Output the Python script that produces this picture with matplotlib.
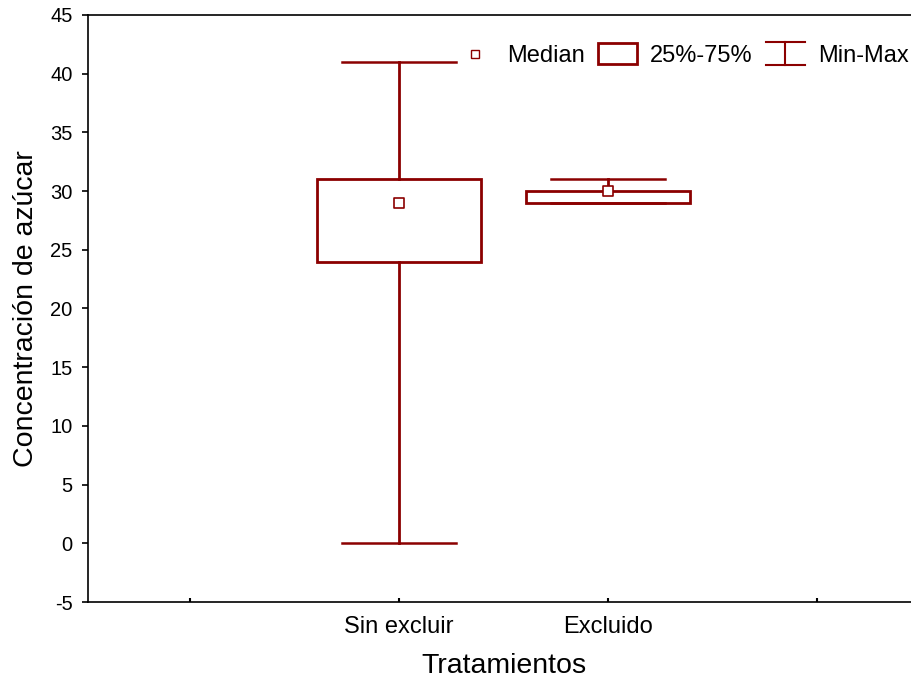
import matplotlib
matplotlib.use("Agg")
import matplotlib.pyplot as plt
from matplotlib.lines import Line2D
from matplotlib.patches import Rectangle
from matplotlib.legend_handler import HandlerBase

plt.rcParams['font.family'] = ['Liberation Sans', 'DejaVu Sans']
plt.rcParams['axes.unicode_minus'] = False

categories = ["Sin excluir", "Excluido"]
positions = [1, 2]
medians = [29, 30]
q1 = [24, 29]
q3 = [31, 30]
mins = [0, 29]
maxs = [41, 31]
tick_positions = [0, 1, 2, 3]
tick_labels = ["", "Sin excluir", "Excluido", ""]

color = "#8B0000"

fig = plt.figure(figsize=(9.12, 6.82), dpi=100)
ax = fig.add_axes([88/912, 80/682, (919-88)/912, 587/682])

stats = []
for i in range(len(categories)):
    stats.append(dict(med=medians[i], q1=q1[i], q3=q3[i],
                      whislo=mins[i], whishi=maxs[i], label=categories[i]))

ax.bxp(stats, positions=positions, widths=0.785, capwidths=0.55,
       showfliers=False, patch_artist=True,
       boxprops=dict(facecolor="white", edgecolor=color, linewidth=2),
       whiskerprops=dict(color=color, linewidth=2),
       capprops=dict(color=color, linewidth=1.8),
       medianprops=dict(linewidth=0))
ax.scatter(positions, medians, marker="s", s=42, facecolor="white",
           edgecolor=color, linewidth=1.2, zorder=5)

ax.set_xlim(-0.488, 3.488)
ax.set_ylim(-5, 45)
ax.set_yticks(range(-5, 46, 5))
ax.set_xticks(tick_positions)
ax.set_xticklabels(tick_labels)
ax.tick_params(axis="x", direction="in", length=3, width=1.5, labelsize=17, pad=10)
ax.tick_params(axis="y", direction="out", length=4, width=1.2, labelsize=14.5, pad=7)
for s in ax.spines.values():
    s.set_linewidth(1.2)

ax.set_xlabel("Tratamientos", fontsize=20.5)
ax.set_ylabel("Concentración de azúcar", fontsize=20.5)
ax.xaxis.set_label_coords(0.5, -(653 - 602) / 587)
ax.yaxis.set_label_coords((39 - 88) / 831, 0.5)


class WhiskerHandler(HandlerBase):
    def create_artists(self, legend, orig_handle, xdescent, ydescent, width,
                       height, fontsize, trans):
        x0 = -xdescent
        y0 = -ydescent
        xm = x0 + width / 2
        top = y0 + height / 2 + height * 0.68
        bot = y0 + height / 2 - height * 0.68
        lines = [
            Line2D([x0, x0 + width], [top, top], color=color, lw=1.5),
            Line2D([x0, x0 + width], [bot, bot], color=color, lw=1.5),
            Line2D([xm, xm], [bot, top], color=color, lw=1.5),
        ]
        for l in lines:
            l.set_transform(trans)
        return lines


class BoxHandler(HandlerBase):
    def create_artists(self, legend, orig_handle, xdescent, ydescent, width,
                       height, fontsize, trans):
        h = height * 1.3
        r = Rectangle((-xdescent, -ydescent + height / 2 - h / 2), width, h,
                      facecolor="white", edgecolor=color, lw=2, transform=trans)
        return [r]


med_handle = Line2D([], [], marker="s", linestyle="none", markersize=5.5,
                    markerfacecolor="white", markeredgecolor=color, markeredgewidth=1.0)
box_handle = Rectangle((0, 0), 1, 1)
wh_handle = Line2D([], [])

leg = ax.legend([med_handle, box_handle, wh_handle], ["Median", "25%-75%", "Min-Max"],
                handler_map={Rectangle: BoxHandler(), wh_handle: WhiskerHandler()},
                ncol=3, frameon=False, fontsize=17, loc="center left",
                bbox_to_anchor=(455/912, (682-56)/682), bbox_transform=fig.transFigure,
                handlelength=1.67, handletextpad=0.55, columnspacing=0.54,
                borderaxespad=0, borderpad=0)

fig.savefig("out.png", dpi=100)
